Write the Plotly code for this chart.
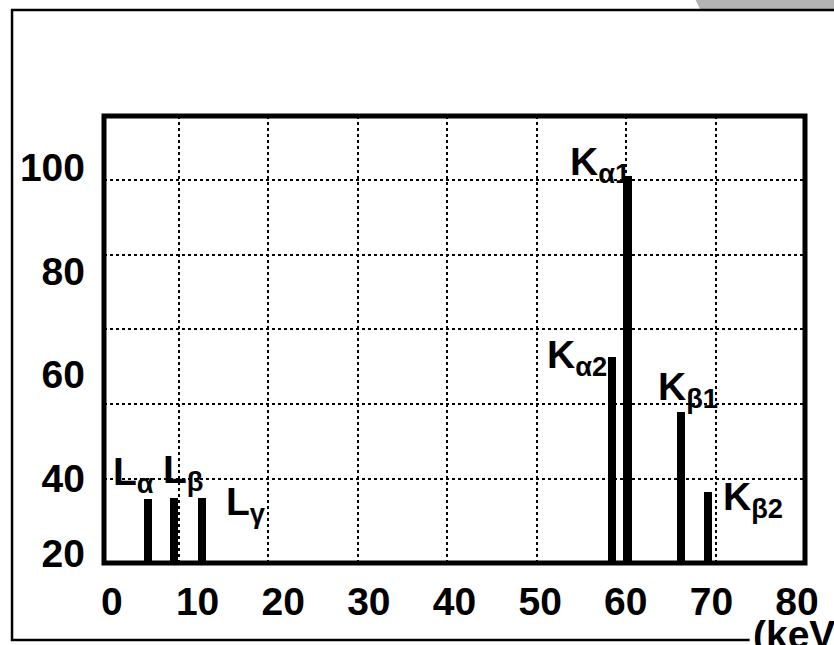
import plotly.graph_objects as go

# ---- data ----
peak_names = ["L<sub>α</sub>", "L<sub>β</sub>", "L<sub>γ</sub>",
              "K<sub>α2</sub>", "K<sub>α1</sub>", "K<sub>β1</sub>", "K<sub>β2</sub>"]
peak_energy_kev = [4.2, 7.2, 10.5, 58.4, 60.2, 66.4, 69.6]
peak_intensity = [36.0, 36.2, 36.2, 63.4, 98.3, 52.8, 37.3]

x_tick_values = [0, 10, 20, 30, 40, 50, 60, 70, 80]
x_tick_labels = ["0", "10", "20", "30", "40", "50", "60", "70", "80"]
y_tick_values = [25.5, 40, 60, 80, 100]
y_tick_labels = ["20", "40", "60", "80", "100"]

grid_x_values = [10, 20, 30, 40, 50, 60, 70]
grid_y_values = [20, 40, 60, 80, 100]

# label anchor points (left / top of each peak label, data units)
label_x = [-0.12, 5.72, 13.08, 50.57, 53.26, 63.53, 71.12]
label_y = [45.8, 46.2, 40.0, 68.4, 105.7, 62.2, 41.0]

FONT = "Liberation Sans, Arial, sans-serif"

fig = go.Figure()
fig.add_trace(go.Bar(
    x=peak_energy_kev, y=peak_intensity, width=0.95,
    marker=dict(color="black", line=dict(width=0)),
    hoverinfo="skip", showlegend=False,
))
# invisible trace that carries the grid axes
fig.add_trace(go.Scatter(
    x=[grid_x_values[0]], y=[grid_y_values[0]], xaxis="x2", yaxis="y2",
    mode="markers", marker=dict(opacity=0), hoverinfo="skip", showlegend=False,
))

for name, lx, ly in zip(peak_names, label_x, label_y):
    fig.add_annotation(x=lx, y=ly, xref="x", yref="y", text=name,
                       showarrow=False, xanchor="left", yanchor="top",
                       font=dict(family=FONT, size=39, color="black", weight="bold"))

fig.add_annotation(x=0.923, y=-0.107, xref="paper", yref="paper", text="(keV)",
                   showarrow=False, xanchor="left", yanchor="top",
                   font=dict(family=FONT, size=39, color="black", weight="bold"))

# outer frame (bottom edge stops where the unit label begins) and top-right shadow
fig.add_shape(type="path", xref="paper", yref="paper",
              path="M 0.8431 1.262 L 1.05 1.262 L 1.05 1.2394 L 0.8502 1.2394 Z",
              fillcolor="#b3b3b3", line=dict(width=0), layer="below")
fig.add_shape(type="path", xref="paper", yref="paper",
              path="M 0.921 -0.1723 L -0.1312 -0.1723 L -0.1312 1.2371 L 1.06 1.2371",
              line=dict(color="black", width=2.5), fillcolor="rgba(0,0,0,0)", layer="below")
# plot border
fig.add_shape(type="rect", xref="paper", yref="paper", x0=0, x1=1, y0=0, y1=1,
              line=dict(color="black", width=5), fillcolor="rgba(0,0,0,0)", layer="above")

tickfont = dict(family=FONT, size=39, color="black", weight="bold")
fig.update_layout(
    width=834, height=645,
    margin=dict(l=104, r=29, t=116, b=82),
    paper_bgcolor="white", plot_bgcolor="white",
    bargap=0,
    xaxis=dict(range=[-0.93, 80.93], tickmode="array", tickvals=x_tick_values,
               ticktext=x_tick_labels, showgrid=False, zeroline=False, showline=False,
               ticks="", tickfont=tickfont, ticklabelstandoff=12, fixedrange=True),
    yaxis=dict(range=[23.6, 109.9], tickmode="array", tickvals=y_tick_values,
               ticktext=y_tick_labels, showgrid=False, zeroline=False, showline=False,
               ticks="", tickfont=tickfont, ticklabelstandoff=18, fixedrange=True),
    xaxis2=dict(overlaying="x", anchor="y2", side="bottom", range=[1.65, 79.94],
                tickmode="array", tickvals=grid_x_values, showticklabels=False,
                showgrid=True, gridcolor="black", gridwidth=2, griddash="dot",
                zeroline=False, showline=False, ticks=""),
    yaxis2=dict(overlaying="y", anchor="x2", side="left", range=[-2.47, 117.1],
                tickmode="array", tickvals=grid_y_values, showticklabels=False,
                showgrid=True, gridcolor="black", gridwidth=2, griddash="dot",
                zeroline=False, showline=False, ticks=""),
)

fig.write_html("out.html", config={"displayModeBar": False},
               post_script="document.body.style.margin='0px';document.body.style.overflow='hidden';")
